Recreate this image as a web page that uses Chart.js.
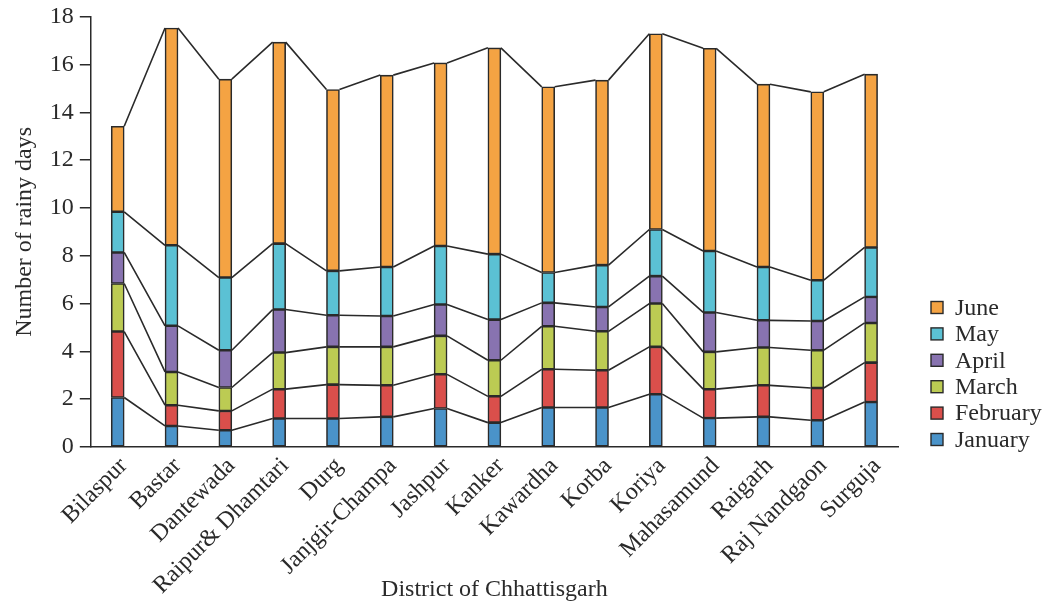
<!DOCTYPE html>
<html>
<head>
<meta charset="utf-8">
<title>Rainy days by district</title>
<script src="https://cdn.jsdelivr.net/npm/chart.js@4/dist/chart.umd.min.js"></script>
<style>
    html, body { margin: 0; padding: 0; background: #fff; }
    #wrap { width: 1045px; height: 604px; position: relative; }
</style>
</head>
<body>
<div id="wrap"><canvas id="rainChart"></canvas></div>
<script>
'use strict';

// districts along the x axis
var districts = ['Bilaspur', 'Bastar', 'Dantewada', 'Raipur& Dhamtari', 'Durg', 'Janjgir-Champa',
    'Jashpur', 'Kanker', 'Kawardha', 'Korba', 'Koriya', 'Mahasamund', 'Raigarh', 'Raj Nandgaon', 'Surguja'];

// rainy days per month
var january  = [2.07, 0.88, 0.70, 1.19, 1.19, 1.26, 1.61, 1.02, 1.65, 1.65, 2.21, 1.21, 1.26, 1.12, 1.88];
var february = [2.76, 0.87, 0.81, 1.23, 1.42, 1.32, 1.43, 1.10, 1.60, 1.56, 1.98, 1.21, 1.32, 1.35, 1.65];
var march    = [2.01, 1.39, 0.98, 1.53, 1.58, 1.61, 1.61, 1.51, 1.80, 1.63, 1.81, 1.56, 1.58, 1.58, 1.66];
var april    = [1.30, 1.93, 1.56, 1.80, 1.32, 1.29, 1.31, 1.70, 0.98, 1.02, 1.15, 1.65, 1.14, 1.22, 1.09];
var may      = [1.70, 3.37, 3.04, 2.76, 1.86, 2.05, 2.45, 2.74, 1.27, 1.75, 1.95, 2.57, 2.23, 1.71, 2.07];
var june     = [3.58, 9.09, 8.30, 8.43, 7.59, 8.03, 7.66, 8.63, 7.77, 7.74, 8.19, 8.48, 7.65, 7.88, 7.25];

var monthNames = ['January', 'February', 'March', 'April', 'May', 'June'];
var monthColors = ['#4a93c9', '#da4f4b', '#bccb53', '#8873b0', '#5bc1d4', '#f4a343'];
var yTicks = [0, 2, 4, 6, 8, 10, 12, 14, 16, 18];

var FONT = "'Liberation Serif', 'Times New Roman', serif";
var INK = '#2a2a2a';

Chart.defaults.font.family = FONT;
Chart.defaults.font.size = 24;
Chart.defaults.color = INK;

// lines joining the top of each segment to the same segment on the next bar
var joinLines = {
    id: 'joinLines',
    afterDatasetsDraw: function(chart) {
        var ctx = chart.ctx;
        ctx.save();
        ctx.strokeStyle = INK;
        ctx.lineWidth = 1.6;
        chart.data.datasets.forEach(function(ds, d) {
            var bars = chart.getDatasetMeta(d).data;
            ctx.beginPath();
            for (var i = 0; i < bars.length - 1; i++) {
                var a = bars[i], b = bars[i + 1];
                ctx.moveTo(a.x + a.width / 2, a.y);
                ctx.lineTo(b.x - b.width / 2, b.y);
            }
            ctx.stroke();
        });
        ctx.restore();
    }
};

// legend on the right, June on top
var sideLegend = {
    id: 'sideLegend',
    afterDraw: function(chart) {
        var ctx = chart.ctx;
        var area = chart.chartArea;
        var x = area.right + 33;
        var step = 26.4;
        var y0 = area.bottom - 7.5 - step * 5;
        ctx.save();
        ctx.font = '24px ' + FONT;
        ctx.textBaseline = 'middle';
        ctx.textAlign = 'left';
        for (var k = 0; k < monthNames.length; k++) {
            var idx = monthNames.length - 1 - k;
            var cy = y0 + k * step;
            ctx.fillStyle = monthColors[idx];
            ctx.fillRect(x, cy - 6, 12, 12);
            ctx.strokeStyle = INK;
            ctx.lineWidth = 1.4;
            ctx.strokeRect(x, cy - 6, 12, 12);
            ctx.fillStyle = INK;
            ctx.fillText(monthNames[idx], x + 24, cy + 1);
        }
        ctx.restore();
    }
};

var series = [january, february, march, april, may, june];
var datasets = [];
for (var m = 0; m < series.length; m++) {
    datasets.push({
        label: monthNames[m],
        data: series[m],
        backgroundColor: monthColors[m],
        borderColor: INK,
        borderWidth: 1.6,
        borderSkipped: false,
        barThickness: 13
    });
}

var ctx = document.getElementById('rainChart').getContext('2d');
var chart = new Chart(ctx, {
    type: 'bar',
    data: { labels: districts, datasets: datasets },
    options: {
        responsive: true,
        maintainAspectRatio: false,
        animation: false,
        layout: { padding: { top: 5, right: 147, bottom: 0, left: 8 } },
        plugins: {
            legend: { display: false },
            tooltip: { enabled: false }
        },
        scales: {
            x: {
                stacked: true,
                grid: { display: false },
                border: { display: true, color: INK, width: 1.5 },
                ticks: { minRotation: 45, maxRotation: 45, autoSkip: false, padding: -3, labelOffset: 6 },
                title: { display: true, text: 'District of Chhattisgarh', padding: { top: 0, bottom: 0 } },
                afterFit: function(scale) { scale.height = 157; }
            },
            y: {
                stacked: true,
                min: 0,
                max: 18,
                afterBuildTicks: function(scale) {
                    scale.ticks = yTicks.map(function(v) { return { value: v }; });
                },
                grid: { drawOnChartArea: false, drawTicks: true, tickLength: 11, color: INK, lineWidth: 1.5 },
                border: { display: true, color: INK, width: 1.5 },
                ticks: { padding: 6, font: { lineHeight: 0.9 } },
                title: { display: true, text: 'Number of rainy days', padding: { top: 2, bottom: 5 } }
            }
        }
    },
    plugins: [joinLines, sideLegend]
});
</script>
</body>
</html>
